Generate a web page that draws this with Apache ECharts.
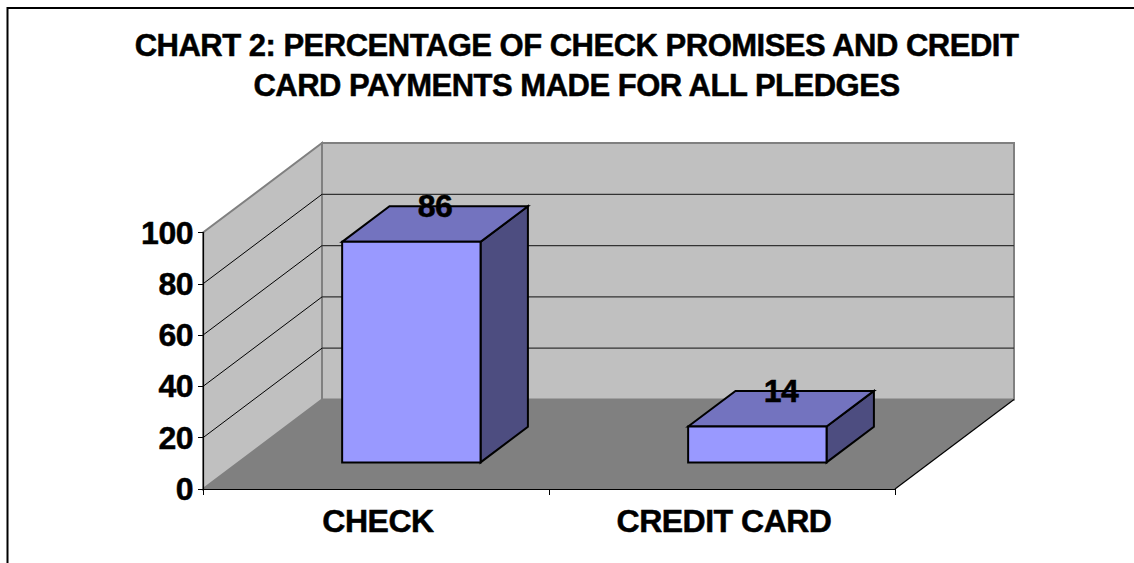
<!DOCTYPE html>
<html>
<head>
<meta charset="utf-8">
<script src="https://cdn.jsdelivr.net/npm/echarts@6/dist/echarts.min.js"></script>
<style>
  html, body { margin: 0; padding: 0; background: #fff; }
  #chart { width: 1134px; height: 563px; }
  #chart text { letter-spacing: -0.5px; }
</style>
</head>
<body>
<div id="chart"></div>
<script>
const titleLines = ['CHART 2: PERCENTAGE OF CHECK PROMISES AND CREDIT', 'CARD PAYMENTS MADE FOR ALL PLEDGES'];
const categories = ['CHECK', 'CREDIT CARD'];
const payments = [86, 14];
const valueTicks = [0, 20, 40, 60, 80, 100];

// Oblique projection of the chart's depth axis, in pixels at full depth.
const DEPTH_X = 119;
const DEPTH_Y = 89.5;
// Where each bar starts and ends along the depth axis, and its share of a band.
const BAR_NEAR = 0.297;
const BAR_FAR = 0.695;
const BAR_SHARE = 0.4;

const FONT = '"Liberation Sans", Arial, sans-serif';

function poly(points, fill, stroke, lineWidth) {
  return {
    type: 'polygon',
    shape: { points },
    style: { fill, stroke: stroke || 'none', lineWidth: lineWidth || 0, lineJoin: 'miter' }
  };
}
function seg(a, b, stroke, lineWidth) {
  return {
    type: 'line',
    shape: { x1: a[0], y1: a[1], x2: b[0], y2: b[1] },
    style: { stroke, lineWidth: lineWidth || 1 }
  };
}
const deep = (p, d) => [p[0] + DEPTH_X * d, p[1] - DEPTH_Y * d];

// Side wall, back wall and floor, plus one pair of gridlines per tick.
function renderRoom(params, api) {
  const value = api.value(0);
  const rect = params.coordSys;
  const left = rect.x, right = rect.x + rect.width;
  const y = api.coord([0, value])[1];
  const children = [];
  if (params.dataIndex === 0) {
    const yTop = api.coord([0, valueTicks[valueTicks.length - 1]])[1];
    const o = [left, y], r = [right, y], t = [left, yTop], tr = [right, yTop];
    children.push(
      poly([o, t, deep(t, 1), deep(o, 1)], '#C0C0C0', '#808080', 2),
      poly([deep(o, 1), deep(t, 1), deep(tr, 1), deep(r, 1)], '#C0C0C0', '#808080', 2),
      poly([o, deep(o, 1), deep(r, 1), r], '#808080'),
      seg(r, deep(r, 1), '#000', 1.2)
    );
  } else if (value < valueTicks[valueTicks.length - 1]) {
    const a = [left, y], b = deep(a, 1), c = [right + DEPTH_X, b[1]];
    children.push(seg(a, b, '#000', 1), seg(b, c, '#333', 1.2));
  }
  return { type: 'group', children };
}

// A bar as three faces sitting on the floor between BAR_NEAR and BAR_FAR.
function renderBar(params, api) {
  const cat = api.value(0), val = api.value(1);
  const base = api.coord([cat, 0]);
  const top = api.coord([cat, val]);
  const half = api.size([1, 0])[0] * BAR_SHARE / 2;
  const bl = deep([base[0] - half, base[1]], BAR_NEAR);
  const br = deep([base[0] + half, base[1]], BAR_NEAR);
  const tl = deep([base[0] - half, top[1]], BAR_NEAR);
  const tr = deep([base[0] + half, top[1]], BAR_NEAR);
  const d = BAR_FAR - BAR_NEAR;
  const black = '#000';
  return {
    type: 'group',
    children: [
      poly([br, tr, deep(tr, d), deep(br, d)], '#4D4D80', black, 2),
      poly([tl, deep(tl, d), deep(tr, d), tr], '#7373BF', black, 2),
      poly([tl, tr, br, bl], '#9999FF', black, 2),
      {
        type: 'text',
        style: {
          text: String(val),
          x: (tl[0] + deep(tr, d)[0]) / 2,
          y: deep(tr, d)[1],
          align: 'center',
          verticalAlign: 'middle',
          font: 'bold 32px ' + FONT,
          fill: '#000',
          stroke: '#000',
          lineWidth: 0.5
        }
      }
    ]
  };
}

const heavy = { textBorderColor: '#000', textBorderWidth: 0.5 };

const chart = echarts.init(document.getElementById('chart'), null, { renderer: 'svg' });
chart.setOption({
  animation: false,
  backgroundColor: '#fff',
  title: {
    text: titleLines.join('\n'),
    left: 571.5,
    top: 21,
    textAlign: 'center',
    textStyle: { fontFamily: FONT, fontWeight: 'bold', fontSize: 31, lineHeight: 39.5, color: '#000', ...heavy }
  },
  grid: { left: 203, top: 232.5, width: 692, height: 256.5, containLabel: false },
  xAxis: {
    type: 'category',
    data: categories,
    z: 6,
    axisLine: { lineStyle: { color: '#000', width: 1.2 } },
    axisTick: { show: true, length: 6, alignWithLabel: false, lineStyle: { color: '#000' } },
    axisLabel: { margin: 16, padding: [0, 0, 0, 4], fontFamily: FONT, fontWeight: 'bold', fontSize: 32, color: '#000', ...heavy }
  },
  yAxis: {
    type: 'value',
    min: 0,
    max: 100,
    interval: 20,
    z: 6,
    splitLine: { show: false },
    axisLine: { show: true, lineStyle: { color: '#000', width: 1.2 } },
    axisTick: { show: true, length: 5, lineStyle: { color: '#000' } },
    axisLabel: { margin: 10, fontFamily: FONT, fontWeight: 'bold', fontSize: 32, color: '#000', ...heavy }
  },
  series: [
    {
      type: 'custom',
      name: 'room',
      coordinateSystem: 'cartesian2d',
      renderItem: renderRoom,
      data: valueTicks.map(v => [v]),
      encode: { y: 0 },
      silent: true,
      z: 1
    },
    {
      type: 'custom',
      name: 'payments',
      coordinateSystem: 'cartesian2d',
      renderItem: renderBar,
      data: payments.map((v, i) => [i, v]),
      encode: { x: 0, y: 1 },
      z: 3
    }
  ],
  graphic: [
    {
      type: 'polyline',
      shape: { points: [[7.5, 563], [7.5, 8], [1134, 8]] },
      style: { stroke: '#000', lineWidth: 2, fill: 'none' },
      z: 10
    }
  ]
});
</script>
</body>
</html>
